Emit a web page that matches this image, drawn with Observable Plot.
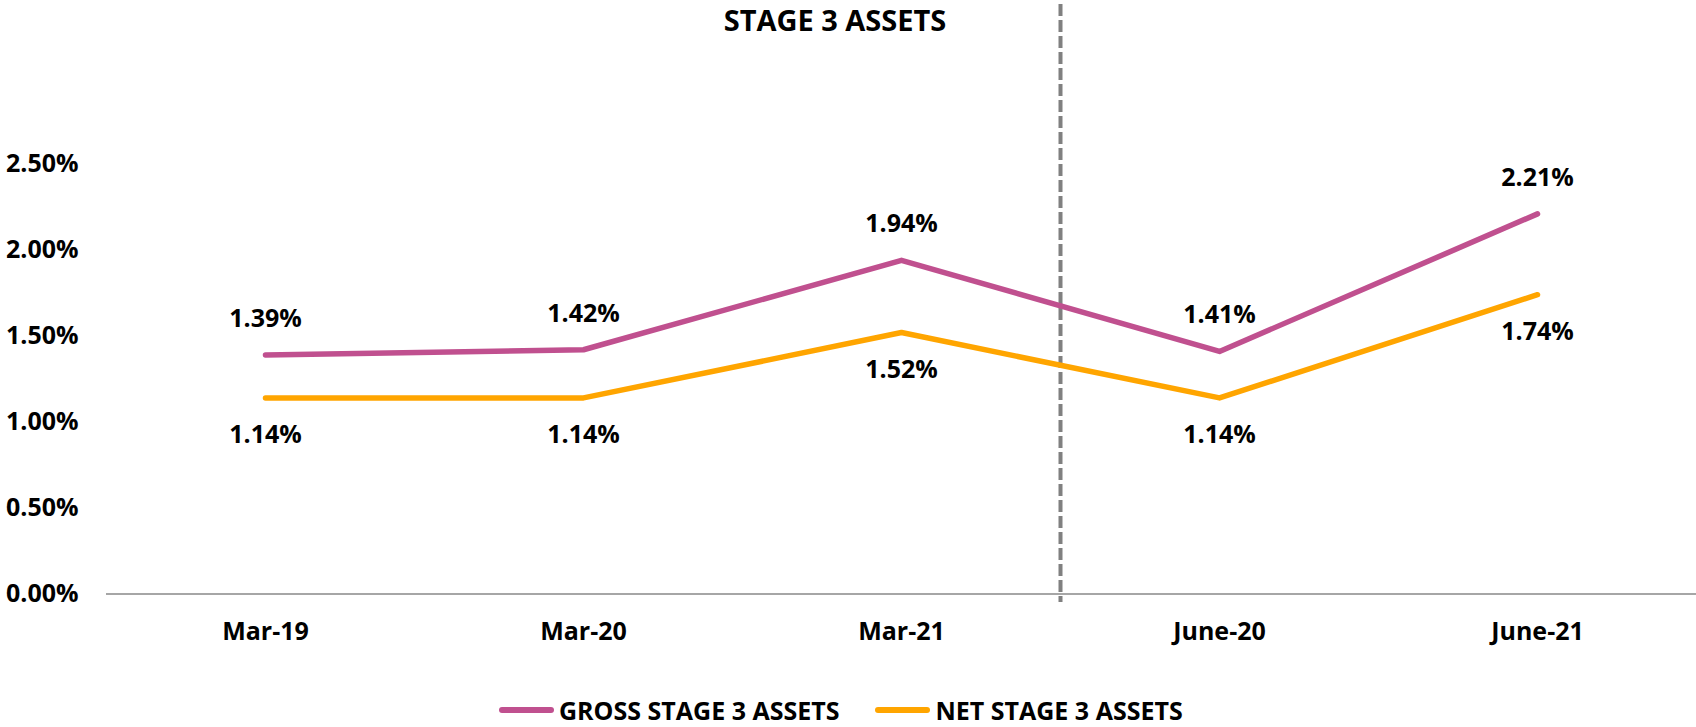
<!DOCTYPE html>
<html>
<head>
<meta charset="utf-8">
<script src="https://cdn.jsdelivr.net/npm/d3@7"></script>
<script src="https://cdn.jsdelivr.net/npm/@observablehq/plot@0.6"></script>
<style>
  html, body { margin: 0; padding: 0; background: #fff; }
  body { font-family: "Open Sans", "Liberation Sans", sans-serif; font-weight: 700; color: #000; }
  #wrap { position: relative; width: 1696px; height: 727px; overflow: hidden; }
  #title { position: absolute; left: 0; top: 0; width: 1670px; text-align: center;
           font-size: 29px; line-height: normal; font-weight: 700; }
  #chart svg { display: block; }
  #legend { height: 47px; box-sizing: border-box; padding-top: 13px; padding-left: 499px;
            display: flex; align-items: center; font-size: 25px; line-height: 34px; }
  .item { display: flex; align-items: center; }
  .sw { display: inline-block; width: 55px; height: 5.5px; border-radius: 3px; margin-right: 5px; }
</style>
</head>
<body>
<div id="wrap">
  <div id="chart"></div>
  <div id="title">STAGE 3 ASSETS</div>
  <div id="legend"></div>
</div>
<script>
const categories = ["Mar-19", "Mar-20", "Mar-21", "June-20", "June-21"];
const grossValues = [1.39, 1.42, 1.94, 1.41, 2.21];
const netValues = [1.14, 1.14, 1.52, 1.14, 1.74];
const seriesNames = ["GROSS STAGE 3 ASSETS", "NET STAGE 3 ASSETS"];
const seriesColors = ["#C0508F", "#FFA500"];
const yTicks = [0, 0.5, 1.0, 1.5, 2.0, 2.5];
const dividerBetween = ["Mar-21", "June-20"];

const gross = categories.map((c, i) => ({i, cat: c, v: grossValues[i]}));
const net = categories.map((c, i) => ({i, cat: c, v: netValues[i]}));
const dividerX = (categories.indexOf(dividerBetween[0]) + categories.indexOf(dividerBetween[1])) / 2;
const fmt = v => v.toFixed(2) + "%";

const plot = Plot.plot({
  width: 1696,
  height: 680,
  marginLeft: 106,
  marginRight: 0,
  marginTop: 4,
  marginBottom: 78,
  style: {fontFamily: '"Open Sans", "Liberation Sans", sans-serif', fontSize: "25px", fontWeight: 700, color: "#000", background: "#fff"},
  x: {type: "linear", domain: [-0.5, categories.length - 0.5]},
  y: {domain: [0, 2.5], range: [593.5, 163.5]},
  marks: [
    Plot.axisY({ticks: yTicks, tickFormat: fmt, tickSize: 0, tickPadding: 28, label: null, fill: "#000"}),
    Plot.axisX({ticks: d3.range(categories.length), tickFormat: i => categories[i], tickSize: 0, tickPadding: 20, label: null, fill: "#000"}),
    Plot.ruleY([0], {stroke: "#A6A6A6", strokeWidth: 2}),
    Plot.ruleX([dividerX], {stroke: "#808080", strokeWidth: 4, strokeDasharray: "12,4"}),
    Plot.line(gross, {x: "i", y: "v", stroke: seriesColors[0], strokeWidth: 5.5, strokeLinecap: "round", strokeLinejoin: "round"}),
    Plot.line(net, {x: "i", y: "v", stroke: seriesColors[1], strokeWidth: 5.5, strokeLinecap: "round", strokeLinejoin: "round"}),
    Plot.text(gross, {x: "i", y: "v", text: d => fmt(d.v), dy: -36, fill: "#000"}),
    Plot.text(net, {x: "i", y: "v", text: d => fmt(d.v), dy: 37, fill: "#000"})
  ]
});
document.getElementById("chart").appendChild(plot);

const legend = document.getElementById("legend");
seriesNames.forEach((name, k) => {
  const item = document.createElement("div");
  item.className = "item";
  if (k > 0) item.style.marginLeft = "36px";
  const sw = document.createElement("span");
  sw.className = "sw";
  sw.style.background = seriesColors[k];
  const t = document.createElement("span");
  t.textContent = name;
  item.appendChild(sw);
  item.appendChild(t);
  legend.appendChild(item);
});
</script>
</body>
</html>
